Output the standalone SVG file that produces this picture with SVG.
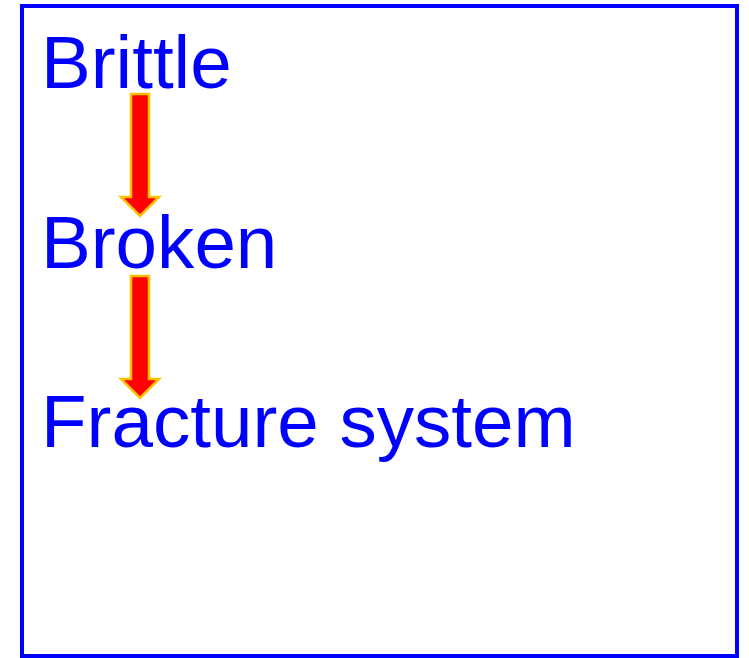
<svg xmlns="http://www.w3.org/2000/svg" width="749" height="658" viewBox="0 0 749 658">
<style>
.t{font-family:"Liberation Sans",Arial,sans-serif;font-size:74.6px;fill:#0000FF}
.a{fill:#FF0000;stroke:#FFC000;stroke-width:2.5;stroke-linejoin:miter}
</style>
<rect width="749" height="658" fill="#FFFFFF"/>
<g id="frame"><rect x="22" y="6" width="715" height="650" fill="none" stroke="#0000FF" stroke-width="4"/></g>
<g id="n1"><text class="t" x="41" y="88">Brittle</text></g>
<g id="n2"><text class="t" x="41" y="268">Broken</text></g>
<g id="n3"><text class="t" x="41" y="447">Fracture system</text></g>
<g id="connectors">
<path class="a" d="M131,94 H149 V197 H159 L140,216 L121,197 H131 Z"/>
<path class="a" d="M131,276 H149 V379 H159 L140,398 L121,379 H131 Z"/>
</g>
</svg>
